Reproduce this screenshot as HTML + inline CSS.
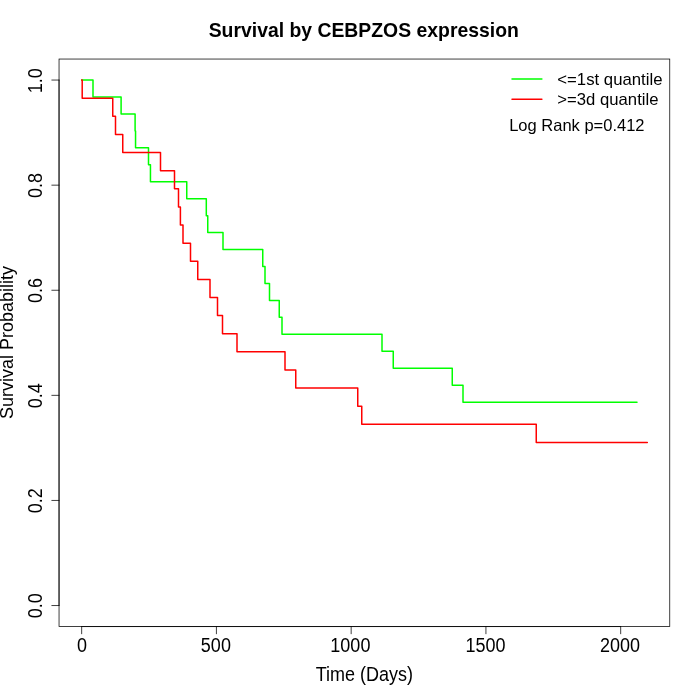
<!DOCTYPE html>
<html><head><meta charset="utf-8"><title>Survival by CEBPZOS expression</title>
<style>
html,body{margin:0;padding:0;background:#fff;}
body{width:700px;height:700px;overflow:hidden;}
svg{display:block;will-change:transform;}
text{font-family:"Liberation Sans",sans-serif;fill:#000;}
</style></head><body>
<svg width="700" height="700" viewBox="0 0 700 700">
<rect x="0" y="0" width="700" height="700" fill="#ffffff"/>
<path d="M81.66 80.06 H93.00 V97.01 H121.10 V113.96 H135.10 V130.91 H135.55 V147.86 H148.50 V164.81 H150.45 V181.77 H186.75 V198.72 H206.30 V215.67 H207.75 V232.62 H223.00 V249.57 H262.75 V266.52 H265.00 V283.47 H269.50 V300.42 H279.25 V317.37 H282.00 V334.32 H382.00 V351.28 H393.25 V368.23 H452.25 V385.18 H463.00 V402.13 H637.00" fill="none" stroke="#00ff00" stroke-width="1.5" stroke-linecap="round" stroke-linejoin="round"/>
<path d="M81.66 80.06 H82.20 V98.18 H112.75 V116.30 H115.50 V134.42 H122.75 V152.54 H160.50 V170.66 H174.50 V188.78 H178.50 V206.90 H180.40 V225.02 H183.00 V243.14 H190.50 V261.26 H197.75 V279.38 H210.00 V297.50 H217.50 V315.62 H222.50 V333.74 H237.00 V351.86 H285.00 V369.98 H295.75 V388.10 H357.75 V406.22 H361.75 V424.34 H536.25 V442.46 H647.30" fill="none" stroke="#ff0000" stroke-width="1.5" stroke-linecap="round" stroke-linejoin="round"/>
<g stroke="#000" stroke-width="0.75" fill="none" stroke-linecap="round">
<path d="M81.66 626.56 H620.68"/>
<path d="M81.66 626.56 V633.76"/>
<path d="M216.42 626.56 V633.76"/>
<path d="M351.17 626.56 V633.76"/>
<path d="M485.93 626.56 V633.76"/>
<path d="M620.68 626.56 V633.76"/>
<path d="M59.04 605.54 V80.06"/>
<path d="M59.04 605.54 H51.84"/>
<path d="M59.04 500.44 H51.84"/>
<path d="M59.04 395.35 H51.84"/>
<path d="M59.04 290.25 H51.84"/>
<path d="M59.04 185.16 H51.84"/>
<path d="M59.04 80.06 H51.84"/>
<rect x="59.04" y="59.04" width="610.72" height="567.52"/>
</g>
<text transform="translate(82.01 651.8) scale(1 1.09)" font-size="18" text-anchor="middle">0</text>
<text transform="translate(215.87 651.8) scale(1 1.09)" font-size="18" text-anchor="middle">500</text>
<text transform="translate(350.37 651.8) scale(1 1.09)" font-size="18" text-anchor="middle">1000</text>
<text transform="translate(485.38 651.8) scale(1 1.09)" font-size="18" text-anchor="middle">1500</text>
<text transform="translate(619.88 651.8) scale(1 1.09)" font-size="18" text-anchor="middle">2000</text>
<text transform="translate(41.8 605.84) rotate(-90) scale(1 1.09)" font-size="18" text-anchor="middle">0.0</text>
<text transform="translate(41.8 500.74) rotate(-90) scale(1 1.09)" font-size="18" text-anchor="middle">0.2</text>
<text transform="translate(41.8 395.65) rotate(-90) scale(1 1.09)" font-size="18" text-anchor="middle">0.4</text>
<text transform="translate(41.8 290.55) rotate(-90) scale(1 1.09)" font-size="18" text-anchor="middle">0.6</text>
<text transform="translate(41.8 185.46) rotate(-90) scale(1 1.09)" font-size="18" text-anchor="middle">0.8</text>
<text transform="translate(41.8 80.76) rotate(-90) scale(1 1.09)" font-size="18" text-anchor="middle">1.0</text>
<text transform="translate(363.75 37.1) scale(0.969 1)" font-size="20" font-weight="bold" text-anchor="middle">Survival by CEBPZOS expression</text>
<text transform="translate(364.4 681) scale(1 1.083)" font-size="18" text-anchor="middle">Time (Days)</text>
<text transform="translate(13.1 342.5) rotate(-90) scale(1 1.07)" font-size="18" text-anchor="middle">Survival Probability</text>
<path d="M512.0 78.9 H541.9" stroke="#00ff00" stroke-width="1.5" stroke-linecap="round"/>
<path d="M512.0 99.3 H541.9" stroke="#ff0000" stroke-width="1.5" stroke-linecap="round"/>
<text transform="translate(557.3 85.4) scale(1 1.025)" font-size="16.75">&lt;=1st quantile</text>
<text transform="translate(557.3 105.4) scale(1 1.025)" font-size="16.7">&gt;=3d quantile</text>
<text x="509.2" y="130.7" font-size="16.5">Log Rank p=0.412</text>
</svg>
</body></html>
